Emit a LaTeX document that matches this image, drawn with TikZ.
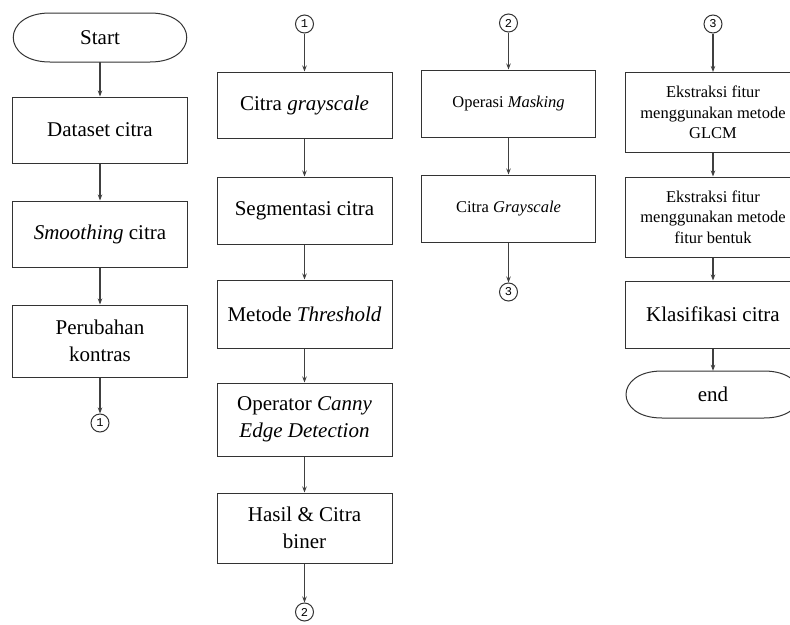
\documentclass[tikz,border=0pt]{standalone}
\usepackage{fontspec}
\setmainfont{Liberation Serif}
\setmonofont{Liberation Mono}
\usetikzlibrary{arrows.meta}
\newcommand\bigf{\fontsize{21}{26.5}\selectfont}
\newcommand\smallf{\fontsize{16.5}{20.5}\selectfont}
\begin{document}
\begin{tikzpicture}[x=1pt,y=-1pt,
  lc/.style={draw=black!80, line width=1pt},
  box/.style={lc, minimum width=175pt, align=center, font=\bigf, inner sep=2pt},
  sbox/.style={box, font=\smallf},
  term/.style={minimum width=174pt, minimum height=49pt, font=\bigf, inner sep=0pt},
  conn/.style={lc, circle, minimum size=18pt, inner sep=0pt, font=\ttfamily\fontsize{12}{12}\selectfont},
  arr/.style={draw=black!75, line width=1.1pt, -{Stealth[length=6pt,width=4.5pt]}}]
\useasboundingbox (0,0) rectangle (790,624);
\clip (0,0) rectangle (790,624);
% column 1
\node[term] (st) at (100,37.5) {Start};
\draw[lc, shift={(st.center)}] (-50,-24.5) -- (50,-24.5) .. controls (99,-24.5) and (99,24.5) .. (50,24.5) -- (-50,24.5) .. controls (-99,24.5) and (-99,-24.5) .. (-50,-24.5) -- cycle;
\node[box, minimum height=66pt] (d1) at (100,130) {Dataset citra};
\node[box, minimum height=66pt] (d2) at (100,234) {\textit{Smoothing} citra};
\node[box, minimum height=72pt] (d3) at (100,341) {Perubahan\\kontras};
\node[conn] (c1a) at (100,423) {1};
\draw[arr] (st.south) -- (d1.north);
\draw[arr] (d1.south) -- (d2.north);
\draw[arr] (d2.south) -- (d3.north);
\draw[arr] (d3.south) -- (c1a.north);
% column 2
\node[conn] (c1b) at (304.5,24) {1};
\node[box, minimum height=66pt] (g1) at (304.5,105) {Citra \textit{grayscale}};
\node[box, minimum height=67pt] (g2) at (304.5,210.5) {Segmentasi citra};
\node[box, minimum height=68pt] (g3) at (304.5,314) {Metode \textit{Threshold}};
\node[box, minimum height=73pt] (g4) at (304.5,419.5) {Operator \textit{Canny}\\\textit{Edge Detection}};
\node[box, minimum height=70pt] (g5) at (304.5,528) {Hasil \& Citra\\biner};
\node[conn] (c2a) at (304.5,612) {2};
\draw[arr] (c1b.south) -- (g1.north);
\draw[arr] (g1.south) -- (g2.north);
\draw[arr] (g2.south) -- (g3.north);
\draw[arr] (g3.south) -- (g4.north);
\draw[arr] (g4.south) -- (g5.north);
\draw[arr] (g5.south) -- (c2a.north);
% column 3
\node[conn] (c2b) at (508.5,23) {2};
\node[sbox, minimum height=67pt, minimum width=174pt] (m1) at (508.5,103.5) {Operasi \textit{Masking}};
\node[sbox, minimum height=67pt, minimum width=174pt] (m2) at (508.5,208.5) {Citra \textit{Grayscale}};
\node[conn] (c3a) at (508.5,292) {3};
\draw[arr] (c2b.south) -- (m1.north);
\draw[arr] (m1.south) -- (m2.north);
\draw[arr] (m2.south) -- (c3a.north);
% column 4
\node[conn] (c3b) at (713,24) {3};
\node[sbox, minimum height=80pt, minimum width=176pt] (e1) at (713,112.5) {Ekstraksi fitur\\menggunakan metode\\GLCM};
\node[sbox, minimum height=80pt, minimum width=176pt] (e2) at (713,217) {Ekstraksi fitur\\menggunakan metode\\fitur bentuk};
\node[box, minimum height=67pt, minimum width=176pt] (e3) at (713,314.5) {Klasifikasi citra};
\node[term, minimum width=176pt, minimum height=47pt] (en) at (713,394.5) {end};
\draw[lc, shift={(en.center)}] (-51,-23.5) -- (51,-23.5) .. controls (99,-23.5) and (99,23.5) .. (51,23.5) -- (-51,23.5) .. controls (-99,23.5) and (-99,-23.5) .. (-51,-23.5) -- cycle;
\draw[arr] (c3b.south) -- (e1.north);
\draw[arr] (e1.south) -- (e2.north);
\draw[arr] (e2.south) -- (e3.north);
\draw[arr] (e3.south) -- (en.north);
\end{tikzpicture}
\end{document}
